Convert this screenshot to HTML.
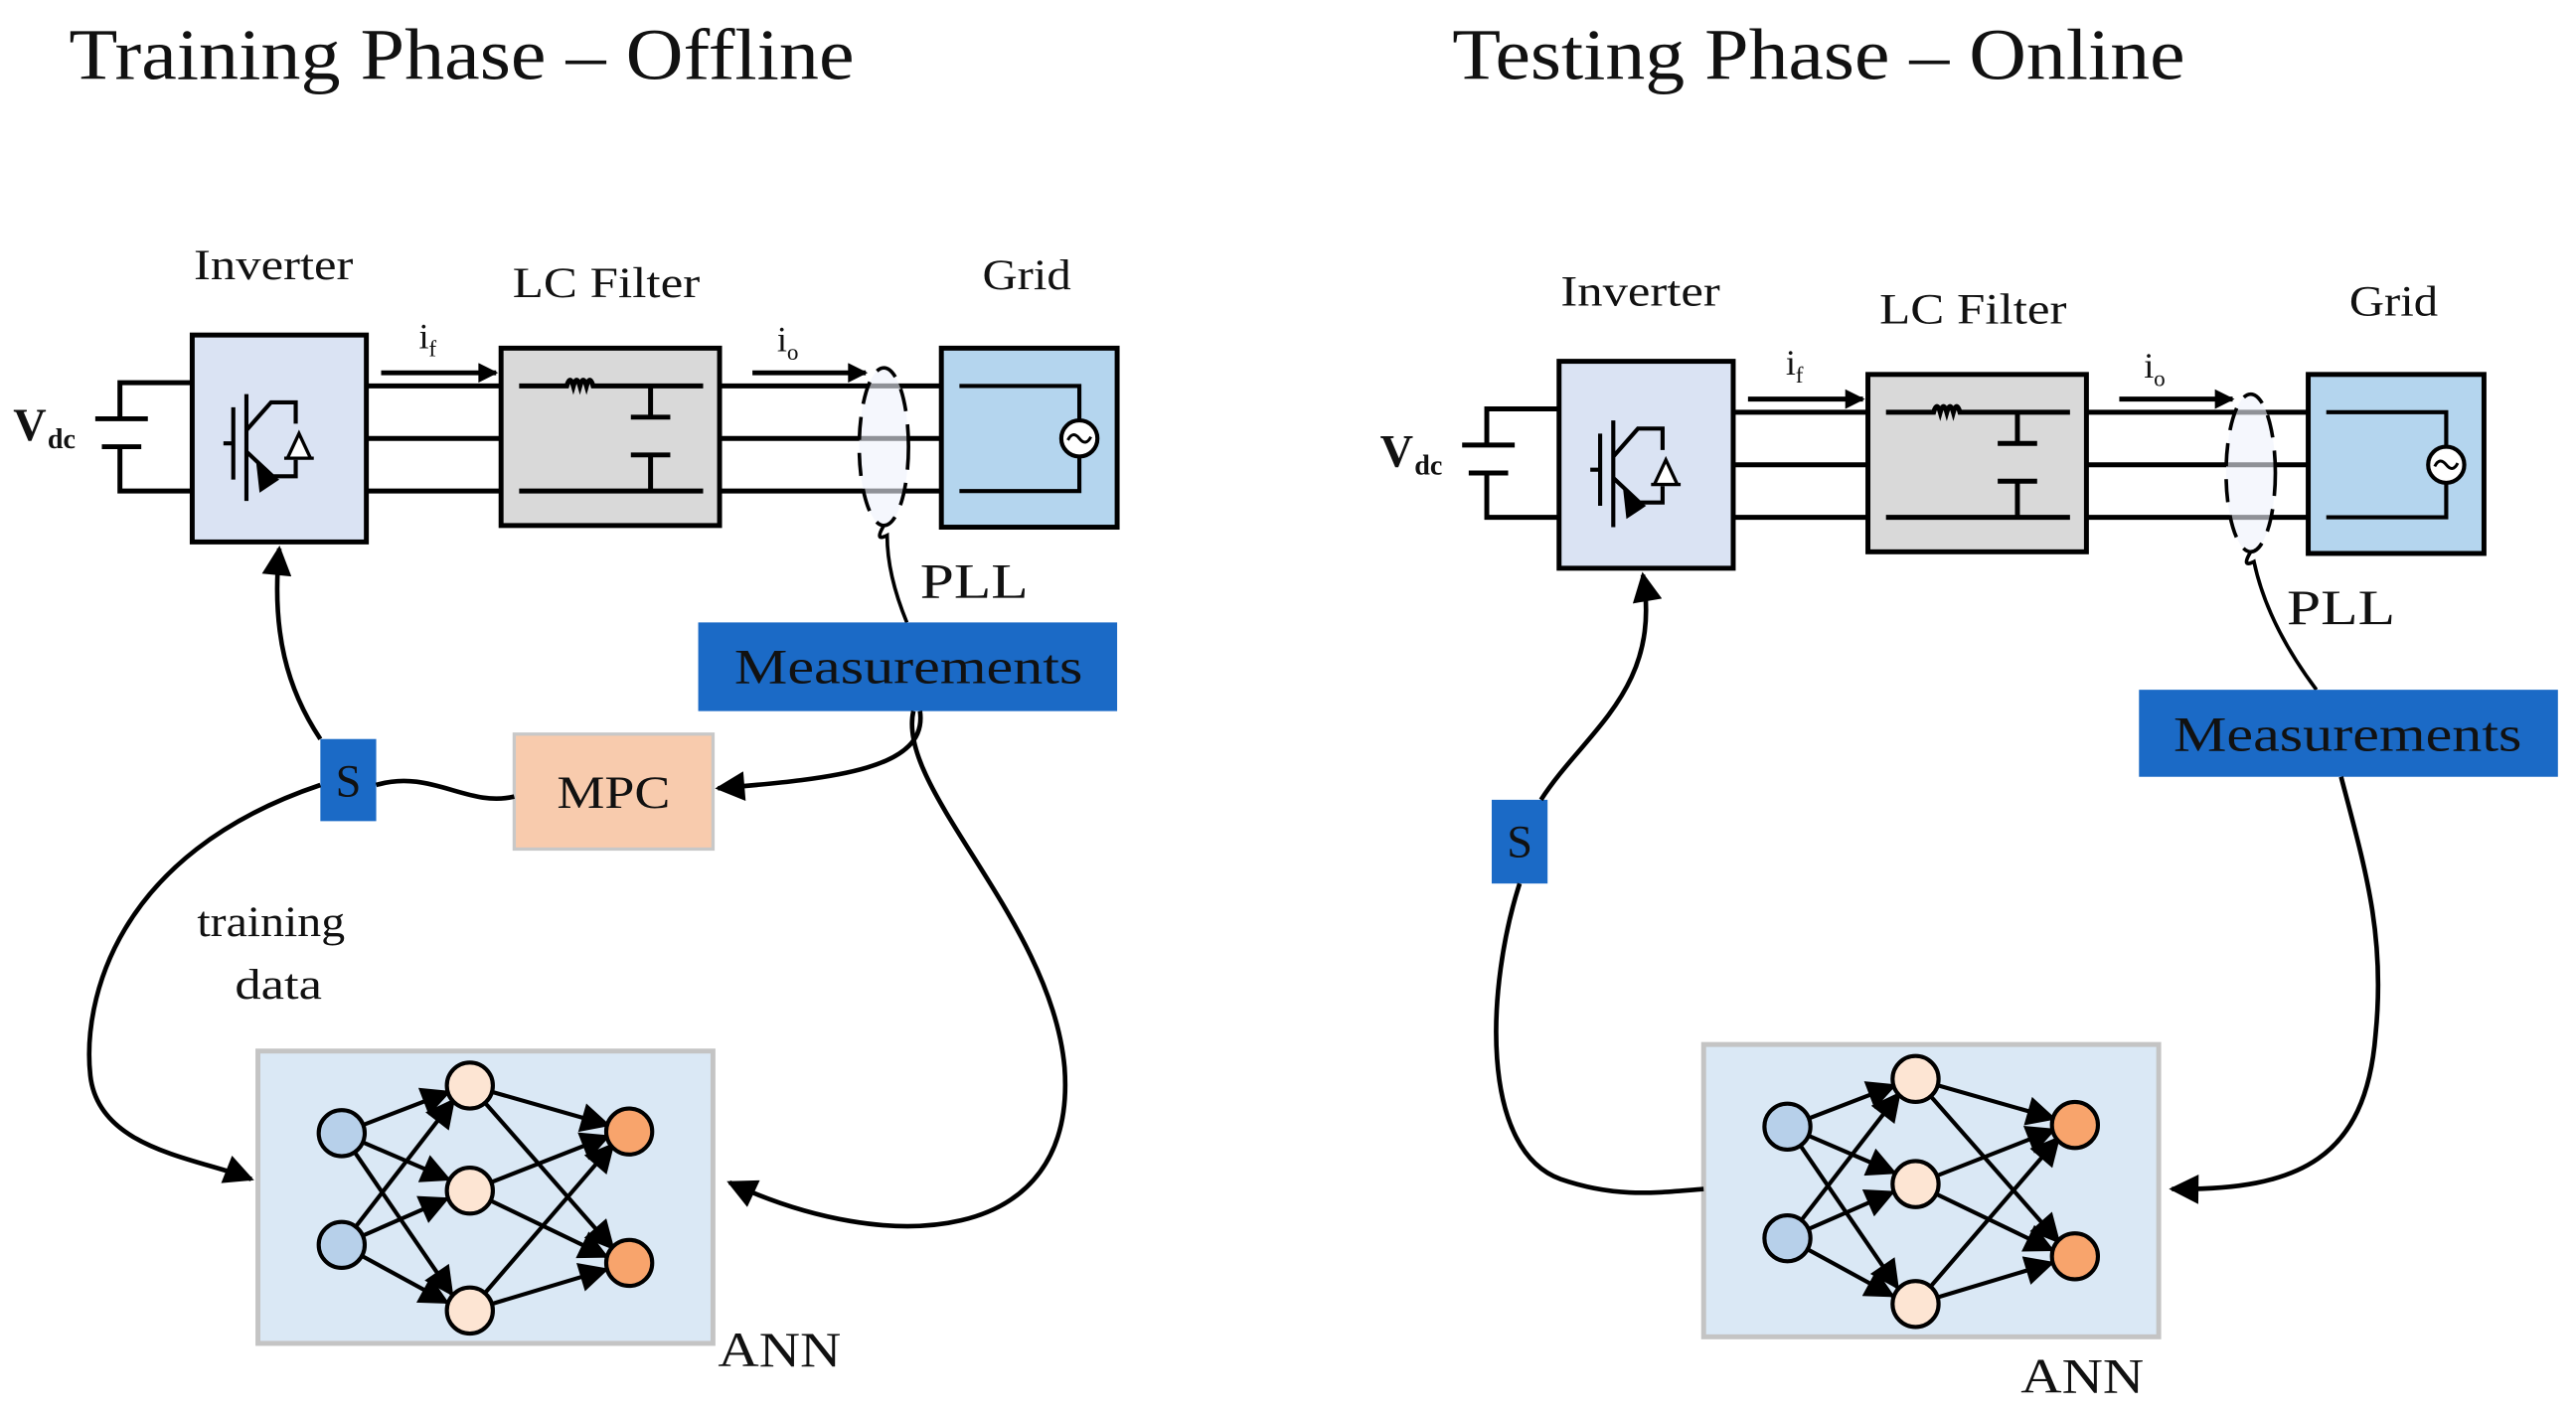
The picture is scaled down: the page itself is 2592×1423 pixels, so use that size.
<!DOCTYPE html>
<html><head><meta charset="utf-8"><style>
html,body{margin:0;padding:0;background:#fff;}
svg{display:block;}
text{font-family:"Liberation Serif",serif;fill:#111;}
</style></head><body>
<svg width="2592" height="1423" viewBox="0 0 1568 861" preserveAspectRatio="none" xmlns="http://www.w3.org/2000/svg">
<defs>
<marker id="ah" viewBox="0 0 10 10" refX="9" refY="5" markerWidth="14" markerHeight="12" orient="auto" markerUnits="userSpaceOnUse">
<path d="M0,0 L10,5 L0,10 z" fill="#000"/></marker>
<marker id="ab" viewBox="0 0 10 10" refX="9" refY="5" markerWidth="22" markerHeight="18" orient="auto" markerUnits="userSpaceOnUse">
<path d="M0,0 L10,5 L0,10 z" fill="#000"/></marker>
<g id="circ">
  <path d="M117 233 H73 V255 M58 255 H90 M62 272 H86 M73 272 V299 H117" stroke="#000" stroke-width="3" fill="none"/>
  <text x="8" y="268" font-size="28" font-weight="bold">V</text><text x="29" y="273" font-size="17" font-weight="bold">dc</text>
  <path d="M223 235 H305 M223 267 H305 M223 299 H305 M438 235 H573 M438 267 H573 M438 299 H573" stroke="#000" stroke-width="3"/>
  <rect x="117" y="204" width="106" height="126" fill="#dae3f3" stroke="#000" stroke-width="3"/>
  <path d="M142 248 V292 M136 270 H142 M150 240 V305 M150 262 L165 245 H180 V258 M150 275 L166 290 H180 V280" stroke="#000" stroke-width="2.5" fill="none"/>
  <path d="M156 282 L170 292 L158 300 z" fill="#000"/>
  <path d="M173 279 H191 M182 264 L175 279 H189 z" stroke="#000" stroke-width="2" fill="#fff"/>
  <text x="118" y="170" font-size="26" textLength="97" lengthAdjust="spacingAndGlyphs">Inverter</text>
  <path d="M232 227 H302" stroke="#000" stroke-width="3" marker-end="url(#ah)"/>
  <text x="255" y="212" font-size="22">i</text><text x="261" y="217" font-size="14">f</text>
  <rect x="305" y="212" width="133" height="108" fill="#d9d9d9" stroke="#000" stroke-width="3"/>
  <path d="M316 235 H345 Q347 228 349 235 Q351 228 353 235 Q355 228 357 235 Q359 228 361 235 H428 M396 235 V254 M384 254 H408 M384 277 H408 M396 277 V299 M316 299 H428" stroke="#000" stroke-width="3" fill="none"/>
  <text x="312" y="181" font-size="26" textLength="114" lengthAdjust="spacingAndGlyphs">LC Filter</text>
  <path d="M458 227 H527" stroke="#000" stroke-width="3" marker-end="url(#ah)"/>
  <text x="473" y="214" font-size="22">i</text><text x="479" y="219" font-size="14">o</text>
  <rect x="573" y="212" width="107" height="109" fill="#b4d5ee" stroke="#000" stroke-width="3"/>
  <path d="M584 235 H657 V299 H584" stroke="#000" stroke-width="2.5" fill="none"/>
  <circle cx="657" cy="267" r="11" fill="#fff" stroke="#000" stroke-width="2.5"/>
  <path d="M650 268 Q653 262 657 267 Q661 272 664 266" stroke="#000" stroke-width="1.8" fill="none"/>
  <text x="598" y="176" font-size="26" textLength="54" lengthAdjust="spacingAndGlyphs">Grid</text>
  <ellipse cx="538" cy="272" rx="15" ry="48" fill="#eef2fb" fill-opacity="0.6" stroke="#000" stroke-width="2.2" stroke-dasharray="14 8"/>
</g>
<g id="ann">
  <rect x="157" y="640" width="277" height="178" fill="#dae8f5" stroke="#c4c4c4" stroke-width="3"/>
  <g stroke="#000" stroke-width="2.5" marker-end="url(#ab)">
    <line x1="208" y1="690" x2="273" y2="665"/><line x1="208" y1="690" x2="273" y2="718"/><line x1="208" y1="690" x2="275" y2="788"/>
    <line x1="208" y1="758" x2="276" y2="670"/><line x1="208" y1="758" x2="272" y2="730"/><line x1="208" y1="758" x2="272" y2="793"/>
    <line x1="286" y1="661" x2="370" y2="685"/><line x1="286" y1="661" x2="373" y2="760"/>
    <line x1="286" y1="725" x2="370" y2="692"/><line x1="286" y1="725" x2="369" y2="765"/>
    <line x1="286" y1="798" x2="373" y2="697"/><line x1="286" y1="798" x2="369" y2="773"/>
  </g>
  <g stroke="#000" stroke-width="2.5">
    <circle cx="208" cy="690" r="14" fill="#b7d0ea"/><circle cx="208" cy="758" r="14" fill="#b7d0ea"/>
    <circle cx="286" cy="661" r="14" fill="#fde5d3"/><circle cx="286" cy="725" r="14" fill="#fde5d3"/><circle cx="286" cy="798" r="14" fill="#fde5d3"/>
    <circle cx="383" cy="689" r="14" fill="#f8a46c"/><circle cx="383" cy="769" r="14" fill="#f8a46c"/>
  </g>
</g>
</defs>

<text x="42" y="48" font-size="44" textLength="478" lengthAdjust="spacingAndGlyphs">Training Phase – Offline</text>
<text x="884" y="48" font-size="44" textLength="446" lengthAdjust="spacingAndGlyphs">Testing Phase – Online</text>

<use href="#circ"/>
<use href="#ann"/>
<text x="437" y="832" font-size="30" textLength="75" lengthAdjust="spacingAndGlyphs">ANN</text>
<text x="560" y="364" font-size="30" textLength="66" lengthAdjust="spacingAndGlyphs">PLL</text>
<path d="M538 320 Q532 330 540 326 Q540 350 552 379" stroke="#000" stroke-width="2.2" fill="none"/>
<rect x="425" y="379" width="255" height="54" fill="#1b6ac6"/>
<text x="447" y="416" font-size="30" textLength="212" lengthAdjust="spacingAndGlyphs">Measurements</text>
<rect x="313" y="447" width="121" height="70" fill="#f8cbad" stroke="#c8c8c8" stroke-width="2"/>
<text x="339" y="492" font-size="28" textLength="69" lengthAdjust="spacingAndGlyphs">MPC</text>
<rect x="195" y="450" width="34" height="50" fill="#1b6ac6"/>
<text x="212" y="485" font-size="28" text-anchor="middle">S</text>
<text x="120" y="570" font-size="26" textLength="90" lengthAdjust="spacingAndGlyphs">training</text>
<text x="143" y="608" font-size="26" textLength="53" lengthAdjust="spacingAndGlyphs">data</text>
<g stroke="#000" stroke-width="2.8" fill="none">
  <path d="M195 450 C175 420 165 385 170 334" marker-end="url(#ab)"/>
  <path d="M313 485 C285 492 262 468 229 478"/>
  <path d="M560 433 C565 468 510 474 437 480" marker-end="url(#ab)"/>
  <path d="M556 433 C545 480 640 560 648 650 C656 760 540 765 444 720" marker-end="url(#ab)"/>
  <path d="M195 478 C70 520 50 610 55 655 C60 700 120 705 153 718" marker-end="url(#ab)"/>
</g>

<use href="#circ" transform="translate(832,16)"/>
<use href="#ann" transform="translate(880,-4)"/>
<text x="1230" y="848" font-size="30" textLength="75" lengthAdjust="spacingAndGlyphs">ANN</text>
<text x="1392" y="380" font-size="30" textLength="66" lengthAdjust="spacingAndGlyphs">PLL</text>
<path d="M1370 336 Q1364 346 1372 342 Q1380 380 1410 420" stroke="#000" stroke-width="2.2" fill="none"/>
<rect x="1302" y="420" width="255" height="53" fill="#1b6ac6"/>
<text x="1323" y="457" font-size="30" textLength="212" lengthAdjust="spacingAndGlyphs">Measurements</text>
<rect x="908" y="487" width="34" height="51" fill="#1b6ac6"/>
<text x="925" y="522" font-size="28" text-anchor="middle">S</text>
<g stroke="#000" stroke-width="2.8" fill="none">
  <path d="M938 487 C965 445 1012 420 1000 350" marker-end="url(#ab)"/>
  <path d="M925 538 C905 600 900 700 950 718 C985 730 1010 726 1037 724"/>
  <path d="M1425 473 C1440 530 1452 570 1446 630 C1440 705 1400 725 1322 724" marker-end="url(#ab)"/>
</g>
</svg>
</body></html>
